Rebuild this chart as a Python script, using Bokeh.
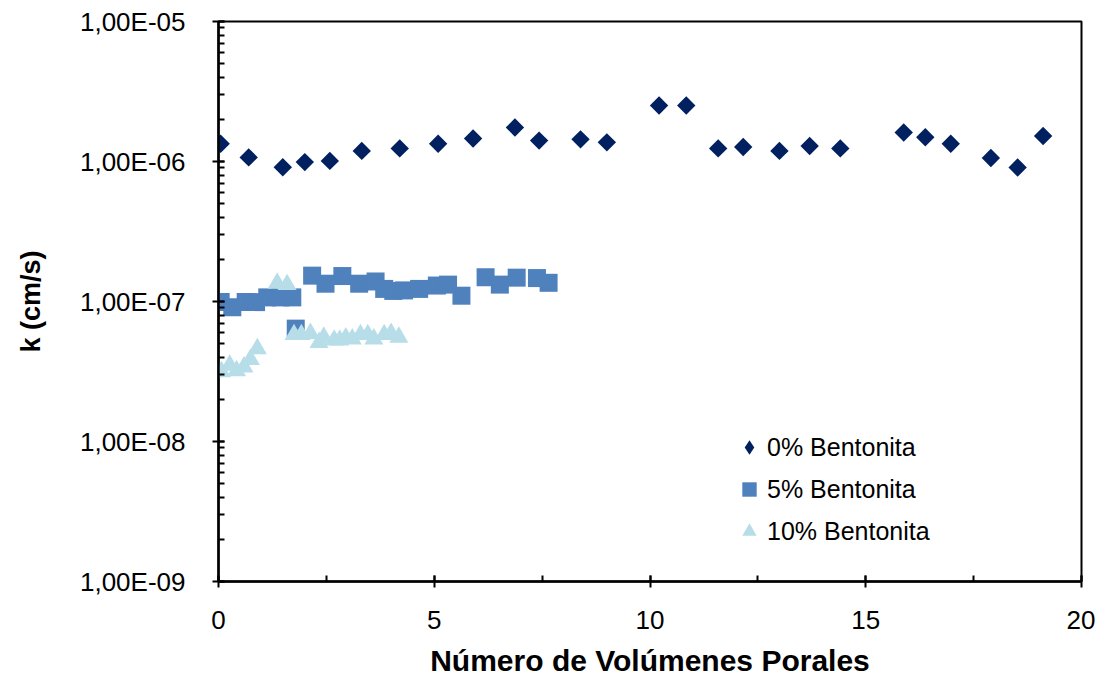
from bokeh.plotting import figure
from bokeh.models import (Range1d, LogTicker, SingleIntervalTicker, CustomJSTickFormatter,
                          Legend, LegendItem)
from bokeh.embed import file_html
from bokeh.resources import INLINE
import math

# ---- data ----
x_0 = [0.05, 0.70, 1.49, 2.00, 2.58, 3.32, 4.20, 5.09, 5.90, 6.87, 7.43, 8.39, 9.00,
       10.21, 10.84, 11.58, 12.16, 13.00, 13.70, 14.41, 15.88, 16.38, 16.97, 17.90, 18.52, 19.11]
k_0 = [1.34e-6, 1.07e-6, 0.91e-6, 0.99e-6, 1.01e-6, 1.19e-6, 1.24e-6, 1.34e-6, 1.46e-6,
       1.75e-6, 1.41e-6, 1.44e-6, 1.37e-6, 2.51e-6, 2.51e-6, 1.24e-6, 1.27e-6, 1.19e-6,
       1.29e-6, 1.24e-6, 1.61e-6, 1.49e-6, 1.34e-6, 1.06e-6, 0.906e-6, 1.52e-6]

x_5 = [0.05, 0.32, 0.63, 0.87, 1.13, 1.44, 1.71, 1.79, 2.17, 2.48, 2.87, 3.26, 3.64, 3.84,
       4.05, 4.30, 4.65, 5.06, 5.32, 5.63, 6.19, 6.52, 6.91, 7.38, 7.65]
k_5 = [0.99e-7, 0.91e-7, 0.99e-7, 0.99e-7, 1.07e-7, 1.07e-7, 1.07e-7, 0.64e-7, 1.53e-7,
       1.34e-7, 1.52e-7, 1.34e-7, 1.39e-7, 1.23e-7, 1.19e-7, 1.20e-7, 1.23e-7, 1.30e-7,
       1.32e-7, 1.10e-7, 1.49e-7, 1.32e-7, 1.48e-7, 1.47e-7, 1.36e-7]

x_10 = [0.07, 0.26, 0.42, 0.59, 0.74, 0.90, 1.36, 1.59, 1.75, 1.92, 2.13, 2.33, 2.44, 2.68,
        2.81, 2.95, 3.10, 3.29, 3.46, 3.60, 3.84, 4.00, 4.18]
k_10 = [3.15e-8, 3.5e-8, 3.2e-8, 3.4e-8, 3.85e-8, 4.6e-8, 1.35e-7, 1.32e-7, 5.8e-8, 5.8e-8,
        5.9e-8, 5.1e-8, 5.56e-8, 5.3e-8, 5.3e-8, 5.5e-8, 5.4e-8, 5.8e-8, 5.8e-8, 5.4e-8,
        5.8e-8, 5.9e-8, 5.56e-8]

labels = ["0% Bentonita", "5% Bentonita", "10% Bentonita"]
x_title = "Número de Volúmenes Porales"
y_title = "k (cm/s)"

FONT = "Liberation Sans"
C0, C5, C10 = "#002060", "#4F81BD", "#B7DEE8"

p = figure(width=1095, height=680, y_axis_type="log",
           x_range=Range1d(0, 20), y_range=Range1d(1e-9, 1e-5),
           output_backend="svg", toolbar_location=None)
p.min_border_left = 218
p.min_border_right = 14
p.min_border_top = 21
p.min_border_bottom = 99
p.background_fill_color = "white"
p.border_fill_color = "white"
p.outline_line_color = "black"
p.outline_line_width = 2
p.xgrid.visible = False
p.ygrid.visible = False

# series
p.scatter(x_5, k_5, marker="square", size=18, fill_color=C5, line_color=C5, line_width=0)
p.scatter(x_10, k_10, marker="triangle", size=19, fill_color=C10, line_color=C10, line_width=0)
p.scatter(x_0, k_0, marker="square", angle=math.pi / 4, size=13,
          fill_color=C0, line_color=C0, line_width=0)

# legend-only renderers
r0 = p.scatter(x_0, k_0, marker="diamond", fill_color=C0, line_color=C0, line_width=0, visible=False)
r5 = p.scatter(x_5, k_5, marker="square", fill_color=C5, line_color=C5, line_width=0, visible=False)
r10 = p.scatter(x_10, k_10, marker="triangle", fill_color=C10, line_color=C10, line_width=0, visible=False)

legend = Legend(items=[LegendItem(label=labels[0], renderers=[r0]),
                       LegendItem(label=labels[1], renderers=[r5]),
                       LegendItem(label=labels[2], renderers=[r10])],
                location=(513, 29), orientation="vertical")
legend.glyph_width = 36
legend.glyph_height = 42
legend.label_height = 42
legend.spacing = 0
legend.label_standoff = 0
legend.padding = 0
legend.margin = 0
legend.border_line_color = None
legend.background_fill_alpha = 0
legend.label_text_font = FONT
legend.label_text_font_size = "25px"
legend.label_text_color = "black"
p.add_layout(legend, "center")

# axes
p.xaxis.ticker = SingleIntervalTicker(interval=5, num_minor_ticks=2)
p.yaxis.ticker = LogTicker(num_minor_ticks=10)
p.yaxis.formatter = CustomJSTickFormatter(code="""
const e = Math.round(Math.log10(tick));
const m = tick / Math.pow(10, e);
const s = e < 0 ? '-' : '+';
return m.toFixed(2).replace('.', ',') + 'E' + s + String(Math.abs(e)).padStart(2, '0');
""")

for ax in (p.xaxis[0], p.yaxis[0]):
    ax.axis_line_color = "black"
    ax.axis_line_width = 2.5
    ax.major_tick_line_color = "black"
    ax.major_tick_line_width = 2
    ax.minor_tick_line_color = "black"
    ax.minor_tick_line_width = 2
    ax.major_tick_in = 6
    ax.major_tick_out = 6
    ax.minor_tick_in = 6
    ax.minor_tick_out = 0
    ax.major_label_text_font = FONT
    ax.major_label_text_font_size = "26px"
    ax.major_label_text_color = "black"
    ax.axis_label_text_font = FONT
    ax.axis_label_text_font_style = "bold"
    ax.axis_label_text_color = "black"

p.xaxis.axis_label = x_title
p.xaxis.axis_label_text_font_size = "30px"
p.xaxis.major_label_standoff = 23
p.xaxis.axis_label_standoff = 12
p.yaxis.axis_label = y_title
p.yaxis.axis_label_text_font_size = "27px"
p.yaxis.major_label_standoff = 27
p.yaxis.axis_label_standoff = 31

open("out.html", "w").write(file_html(p, INLINE))
